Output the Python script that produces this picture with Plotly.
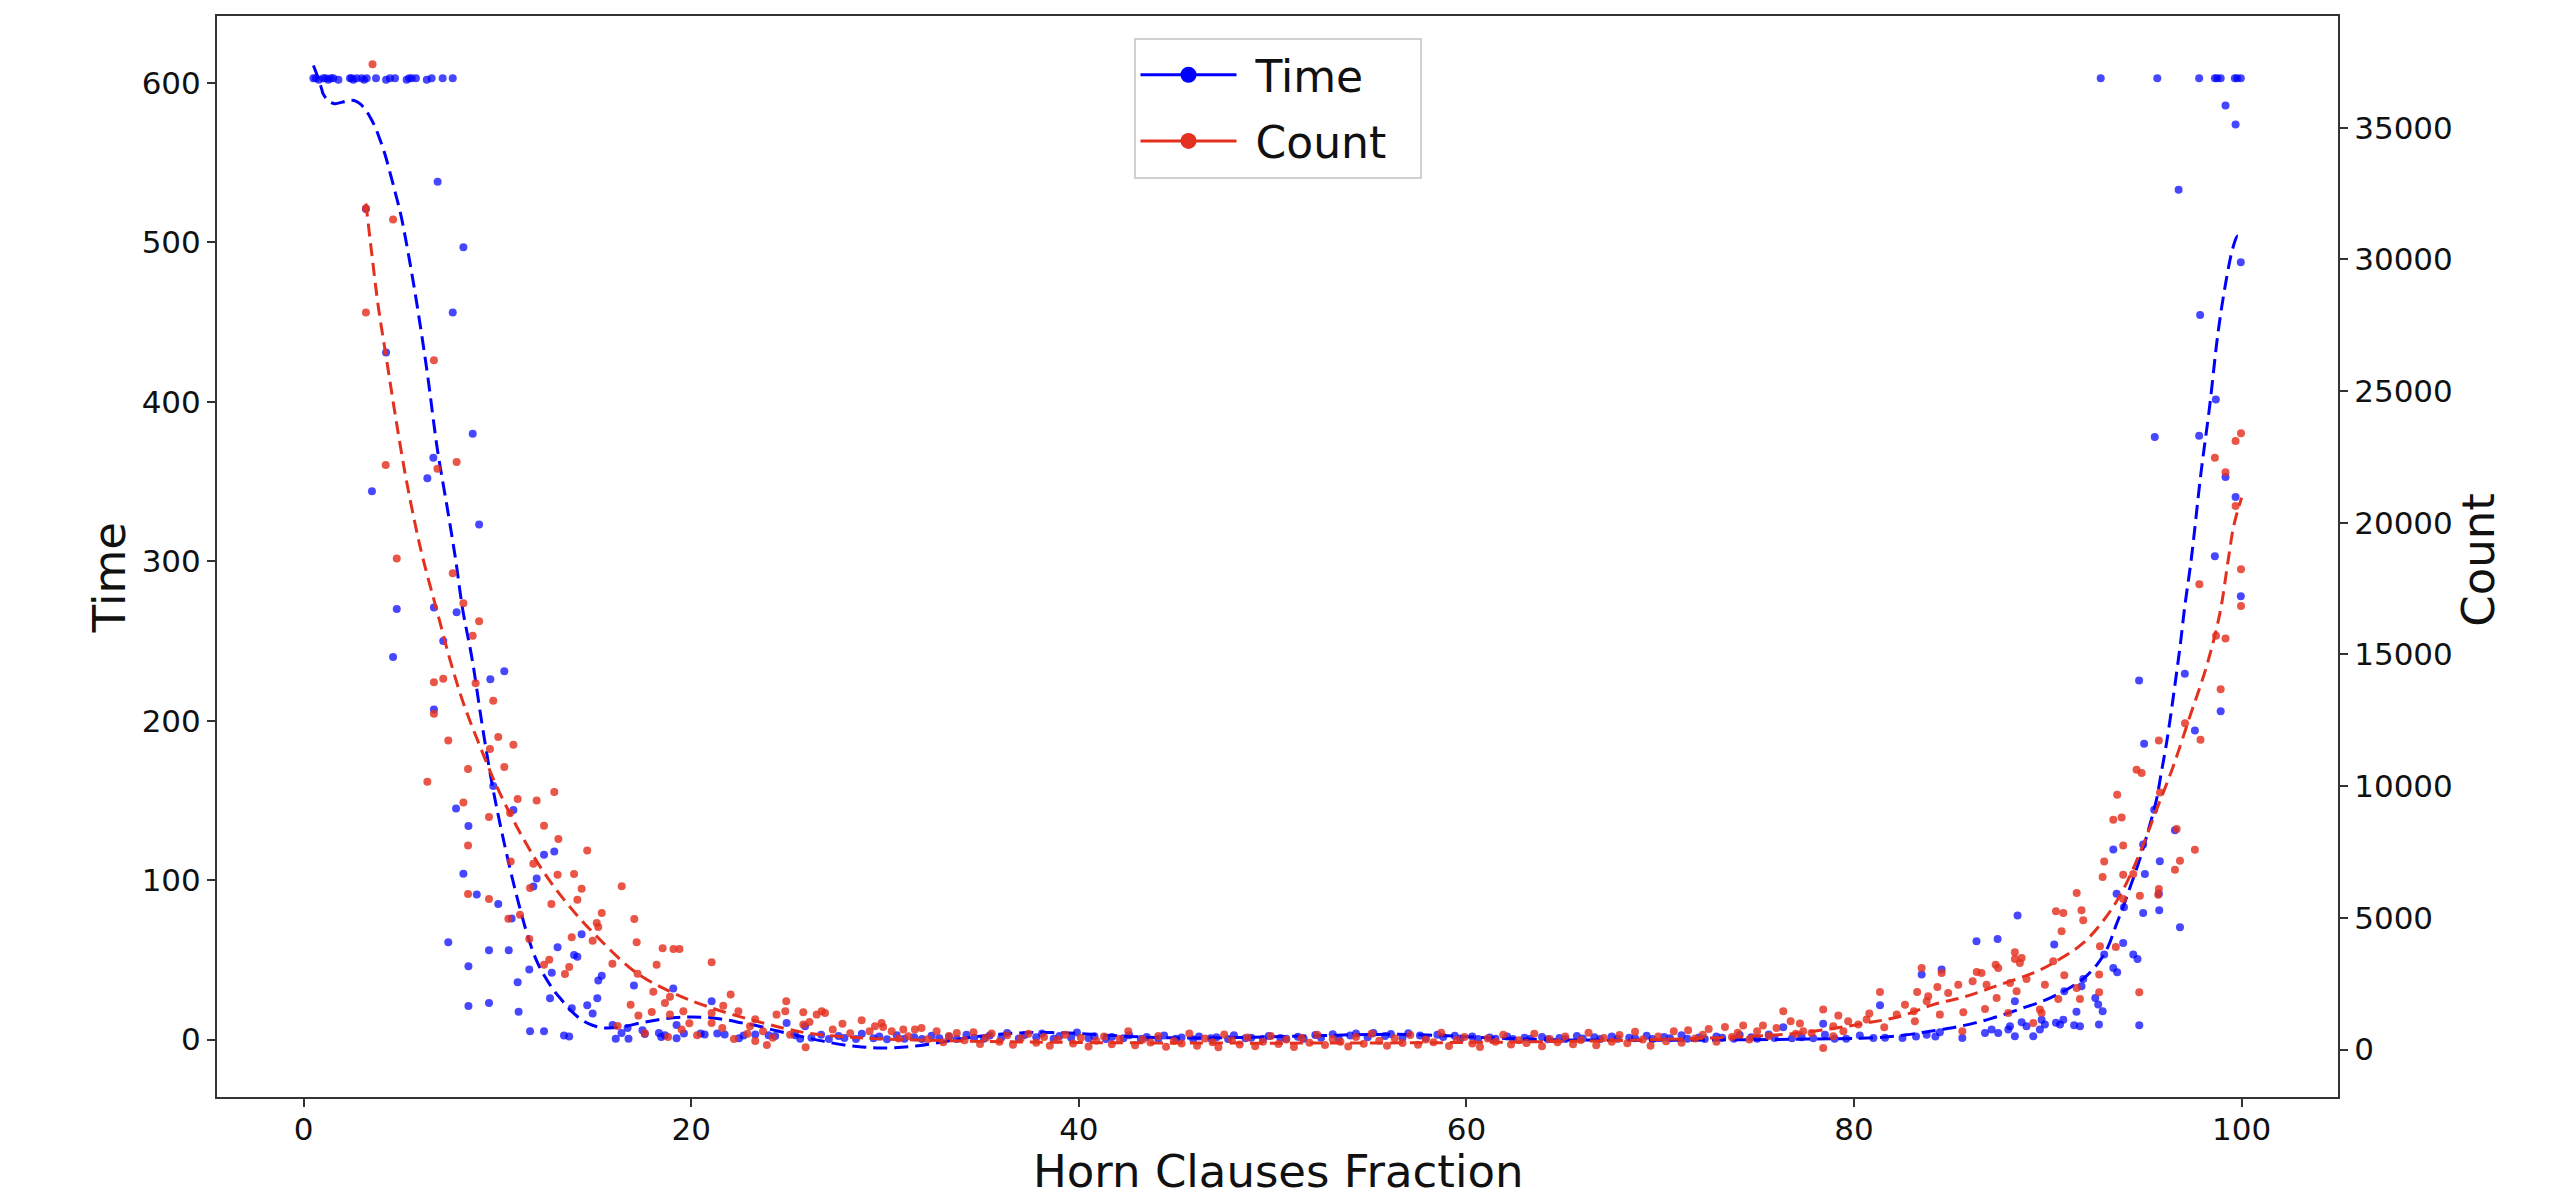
import plotly.graph_objects as go

# ---------------- data ----------------
# Time scatter (left axis), split by region; pairs of (horn fraction, time)
time_cap_left = [(0.50, 603), (0.62, 603), (0.78, 602), (1.01, 603), (1.14, 603), (1.27, 602),
                 (1.40, 603), (1.53, 603), (1.79, 602), (2.39, 603), (2.47, 603), (2.56, 602),
                 (2.73, 603), (2.99, 603), (3.12, 602), (3.25, 603), (3.73, 603), (4.25, 602),
                 (4.45, 603), (4.71, 603), (5.31, 602), (5.44, 603), (5.57, 603), (5.79, 603),
                 (6.35, 602), (6.60, 603), (7.17, 603), (7.69, 603)]
time_cap_right = [(92.73, 603), (95.65, 603), (97.81, 603), (98.62, 603), (98.74, 603),
                  (98.92, 603), (99.65, 603), (99.77, 603), (99.96, 603)]
time_left = [(3.21, 521), (6.91, 538), (8.24, 497), (7.69, 456), (4.25, 431), (8.72, 380),
             (6.69, 365), (6.38, 352), (3.52, 344), (9.05, 323), (4.80, 270), (6.72, 271),
             (7.89, 268), (4.61, 240), (7.20, 250), (10.35, 231), (9.63, 226), (6.72, 207),
             (9.78, 159), (7.86, 145), (10.82, 144), (8.50, 134), (12.40, 116), (12.93, 118),
             (8.24, 104), (12.02, 101), (11.85, 96), (8.93, 91), (10.04, 85), (10.73, 76),
             (14.34, 66), (7.46, 61), (9.56, 56), (10.58, 56), (13.10, 58), (13.95, 53),
             (14.12, 52), (8.50, 46), (11.64, 44), (12.80, 42), (15.38, 40), (15.20, 37),
             (11.04, 36), (17.04, 34), (19.07, 32), (12.71, 26), (15.15, 26), (8.50, 21),
             (9.56, 23), (14.63, 21.5), (13.83, 19.6), (11.09, 17.4), (14.91, 16.3), (21.05, 24),
             (24.92, 10.4), (11.68, 5.2), (12.40, 5.2), (13.43, 2.5), (13.70, 1.9), (15.94, 9.2),
             (16.10, 0.5), (16.40, 4.2), (16.76, 0.6), (16.71, 7.3), (17.48, 5.9), (17.60, 3.5),
             (18.33, 4.2), (18.45, 1.7), (18.64, 2.8), (19.24, 0.8), (19.24, 9.2), (19.62, 3.8),
             (20.48, 3.8), (20.69, 3.2), (21.34, 3.8), (21.72, 3.2), (22.46, 0.8), (22.70, 2.5),
             (23.30, 3.2), (23.99, 2.8), (24.33, 2.2), (25.36, 2.8), (25.62, 0.5), (25.87, 8.4)]
time_mid = [(26.2, 1.2), (26.7, 3.1), (27.1, 0.4), (27.6, 2.2), (27.9, 1.0), (28.5, 0.3),
            (28.8, 3.6), (29.4, 0.8), (29.7, 1.9), (30.1, 0.2), (30.6, 2.7), (31.0, 0.6),
            (31.5, 1.4), (31.9, 0.3), (32.4, 2.4), (32.8, 0.9), (33.3, 1.8), (33.7, 0.4),
            (34.2, 3.0), (34.6, 1.1), (35.1, 0.5), (35.4, 2.6), (36.0, 1.3), (36.3, 4.1),
            (36.9, 0.7), (37.2, 2.9), (37.8, 1.5), (38.1, 3.8), (38.7, 0.6), (39.0, 2.3),
            (39.6, 1.2), (39.9, 4.4), (40.5, 0.8), (40.8, 2.1), (41.4, 0.4), (41.7, 1.7),
            (42.3, 0.9), (42.6, 2.8), (43.2, 0.3), (43.5, 1.6), (44.1, 0.7), (44.4, 2.5),
            (45.0, 0.5), (45.3, 1.3), (45.9, 0.2), (46.2, 2.0), (46.8, 0.9), (47.1, 1.5),
            (47.7, 0.4), (48.0, 2.7), (48.6, 0.8), (48.9, 1.2), (49.5, 0.3), (49.8, 2.2),
            (50.4, 1.0), (50.7, 0.5), (51.3, 1.8), (51.6, 0.6), (52.2, 2.9), (52.5, 1.1),
            (53.1, 3.4), (53.4, 0.9), (54.0, 2.6), (54.3, 3.9), (54.9, 1.4), (55.2, 4.2),
            (55.8, 2.3), (56.1, 3.5), (56.7, 1.2), (57.0, 4.0), (57.6, 2.5), (57.9, 0.9),
            (58.5, 3.1), (58.8, 1.6), (59.4, 2.4), (59.7, 0.7), (60.3, 1.9), (60.6, 0.4),
            (61.2, 1.3), (61.5, 0.5), (62.1, 2.0), (62.4, 0.3), (63.0, 1.1), (63.3, 0.6),
            (63.9, 1.7), (64.2, 0.2), (64.8, 1.0), (65.1, 0.4), (65.7, 2.2), (66.0, 0.7),
            (66.6, 1.4), (66.9, 0.3), (67.5, 1.9), (67.8, 0.5), (68.4, 1.2), (68.7, 0.8),
            (69.3, 2.4), (69.6, 0.4), (70.2, 1.6), (70.5, 0.9), (71.1, 2.7), (71.4, 0.6),
            (72.0, 1.3), (72.3, 0.3), (72.9, 2.0), (73.2, 1.1), (73.8, 0.5), (74.1, 2.9),
            (74.7, 1.4), (75.0, 0.6), (75.6, 3.2), (75.9, 1.0), (76.35, 7.7), (76.8, 0.8)]
time_right = [(77.3, 1.5), (77.9, 0.8), (78.41, 10.0), (78.5, 3.1), (79.0, 0.5), (79.6, 0.6),
              (80.3, 2.5), (81.0, 1.0), (81.34, 21.5), (81.6, 1.2), (82.5, 1.0), (83.2, 2.0),
              (83.49, 40.8), (83.75, 3.1), (84.2, 2.0), (84.52, 43.9), (84.43, 4.6), (85.59, 1.0),
              (86.32, 61.7), (86.76, 4.2), (87.1, 6.3), (87.41, 63.1), (87.44, 4.2), (87.96, 6.3),
              (88.05, 8.4), (88.3, 24.0), (88.44, 77.8), (88.3, 2.1), (88.65, 10.9), (88.9, 8.4),
              (89.25, 2.1), (89.68, 12.5), (89.85, 9.4), (89.59, 6.3), (90.33, 59.6), (90.42, 10.5),
              (90.85, 30.3), (90.63, 9.4), (90.8, 12.5), (91.36, 9.0), (91.48, 17.4), (91.66, 8.4),
              (91.83, 38.0), (91.74, 33.4), (92.45, 26.1), (92.6, 22.0), (92.64, 9.4), (92.83, 17.8),
              (92.91, 53.3), (93.38, 119.2), (93.55, 91.4), (93.38, 44.9), (93.58, 42.2),
              (93.89, 60.6), (93.93, 83.0), (94.41, 53.3), (94.63, 50.6), (94.71, 225.3),
              (94.72, 9.0), (94.92, 122.3), (94.92, 79.4), (94.97, 185.6), (95.01, 103.9),
              (95.49, 144.2), (95.73, 91.4), (95.75, 81.1), (95.78, 111.8), (96.56, 131.3),
              (96.82, 70.5), (97.07, 229.5), (97.59, 193.8), (98.92, 205.9), (99.96, 278.0),
              (99.17, 585.8), (99.69, 573.9), (96.75, 533.1), (99.96, 487.5), (97.86, 454.5),
              (98.67, 401.4), (95.52, 378.0), (97.81, 378.8), (99.17, 352.9), (99.69, 340.3),
              (98.62, 303.1)]

# Count scatter (right axis): pairs of (horn fraction, count)
count_left = [(3.55, 37410), (3.21, 31935), (4.61, 31516), (3.21, 27988), (6.72, 26166),
              (4.23, 22195), (7.89, 22309), (6.90, 22055), (4.80, 18641), (7.69, 18086),
              (8.24, 16947), (9.05, 16264), (8.72, 15707), (6.72, 13950), (7.20, 14075),
              (8.87, 13912), (6.72, 12748), (9.78, 13241), (7.46, 11735), (10.04, 11863),
              (10.82, 11572), (9.61, 11408), (8.48, 10650), (10.35, 10726), (6.38, 10168),
              (8.24, 9383), (11.04, 9511), (12.02, 9460), (12.93, 9777), (9.56, 8828),
              (10.65, 8980), (12.40, 8499), (8.48, 7751), (13.14, 7994), (14.63, 7562),
              (10.68, 7145), (11.85, 7057), (13.10, 6640), (13.95, 6665), (11.68, 6134),
              (14.34, 6108), (16.41, 6197), (8.48, 5906), (9.56, 5716), (12.78, 5526),
              (14.12, 5691), (15.38, 5185), (17.06, 4957), (15.12, 4805), (15.20, 4653),
              (10.56, 4970), (11.16, 5122), (13.83, 4262), (11.64, 4198), (14.91, 4136),
              (17.18, 4073), (18.52, 3844), (19.08, 3820), (19.39, 3820), (21.05, 3312),
              (12.67, 3415), (12.40, 3225), (15.93, 3263), (18.21, 3225), (13.70, 3136),
              (13.48, 2871), (17.23, 2883), (18.04, 2200), (22.03, 2087), (18.64, 1771),
              (18.90, 2010), (16.87, 1707), (17.27, 1290), (17.96, 1429), (18.90, 1328),
              (19.59, 1454), (19.90, 1000), (21.05, 1391), (21.05, 1011), (21.65, 1669),
              (22.43, 1454), (23.03, 885), (23.30, 1150), (23.30, 329), (23.90, 177),
              (24.40, 1328), (24.90, 1833), (24.85, 1454), (25.78, 1416), (25.78, 948),
              (25.90, 88), (16.2, 900), (17.6, 620), (18.8, 480), (19.5, 760), (20.3, 540),
              (21.6, 820), (22.2, 400), (22.9, 600), (23.7, 700), (24.2, 450), (25.1, 560)]
count_mid = [(26.1, 1050), (26.47, 1328), (26.73, 1454), (26.9, 1391), (27.3, 760), (27.8, 980),
             (28.2, 620), (28.79, 1113), (29.2, 700), (29.48, 885), (29.82, 1011), (29.9, 860),
             (30.34, 695), (30.7, 420), (30.94, 758), (31.2, 510), (31.54, 758), (31.88, 822),
             (32.2, 390), (32.66, 695), (33.0, 280), (33.3, 520), (33.7, 632), (34.1, 350),
             (34.56, 660), (34.9, 210), (35.2, 450), (35.5, 610), (35.9, 300), (36.3, 540),
             (36.6, 180), (37.0, 420), (37.4, 600), (37.8, 260), (38.2, 480), (38.5, 150),
             (38.9, 380), (39.3, 560), (39.7, 230), (40.1, 450), (40.5, 120), (40.9, 340),
             (41.3, 500), (41.7, 200), (42.1, 410), (42.55, 695), (42.9, 160), (43.3, 380),
             (43.7, 270), (44.1, 520), (44.5, 110), (44.9, 330), (45.3, 230), (45.7, 610),
             (46.1, 150), (46.5, 420), (46.9, 280), (47.2, 90), (47.5, 570), (47.9, 350),
             (48.3, 190), (48.7, 460), (49.1, 130), (49.5, 300), (49.9, 520), (50.3, 210),
             (50.7, 380), (51.1, 100), (51.5, 440), (51.9, 260), (52.3, 560), (52.7, 170),
             (53.1, 400), (53.5, 300), (53.9, 120), (54.3, 480), (54.7, 220), (55.1, 600),
             (55.5, 340), (55.9, 150), (56.3, 430), (56.7, 250), (57.1, 550), (57.5, 180),
             (57.9, 380), (58.3, 280), (58.7, 640), (59.1, 140), (59.5, 360), (59.9, 480),
             (60.3, 230), (60.7, 100), (61.1, 420), (61.5, 300), (61.9, 560), (62.3, 190),
             (62.7, 350), (63.1, 250), (63.5, 600), (63.9, 130), (64.3, 400), (64.7, 280),
             (65.1, 500), (65.5, 200), (65.9, 360), (66.3, 640), (66.7, 160), (67.1, 440),
             (67.5, 300), (67.9, 550), (68.3, 240), (68.7, 680), (69.1, 380), (69.5, 150),
             (69.9, 500), (70.3, 320), (70.7, 695), (71.1, 260), (71.44, 733), (71.8, 420),
             (72.2, 560), (72.5, 780), (72.9, 300), (73.34, 860), (73.7, 480), (74.0, 640),
             (74.28, 910), (74.6, 380), (75.0, 700), (75.3, 910), (75.6, 520), (76.0, 820),
             (76.35, 1454), (76.73, 1075), (77.0, 600)]
count_right = [(99.97, 23397), (99.69, 23106), (98.62, 22473), (99.17, 21918), (99.69, 20639),
               (99.97, 18237), (97.82, 17668), (99.97, 16845), (98.68, 15707), (99.17, 15606),
               (98.92, 13684), (97.08, 12394), (97.88, 11761), (95.73, 11736), (94.58, 10623),
               (94.84, 10497), (93.58, 9675), (95.79, 9763), (93.38, 8726), (93.81, 8814),
               (96.65, 8372), (93.89, 7752), (97.59, 7588), (92.91, 7145), (96.82, 7171),
               (96.56, 6829), (92.83, 6551), (93.89, 6640), (94.41, 6665), (94.75, 5843),
               (95.70, 5881), (95.73, 6096), (93.89, 5716), (91.49, 5944), (90.42, 5248),
               (90.80, 5185), (91.74, 5286), (91.83, 4906), (90.71, 4489), (92.69, 3920),
               (93.51, 3895), (88.30, 3693), (88.65, 3478), (88.30, 3440), (88.56, 3288),
               (87.31, 3225), (87.44, 3098), (86.33, 2946), (86.58, 2908), (90.28, 3351),
               (90.85, 2820), (92.65, 2846), (83.49, 3098), (84.52, 2908), (86.12, 2593),
               (85.38, 2466), (84.86, 2150), (84.30, 2378), (83.83, 2023), (86.84, 2466),
               (87.36, 1960), (88.05, 2529), (88.39, 2213), (88.90, 2681), (89.85, 2466),
               (89.59, 1518), (90.54, 1922), (91.49, 2339), (91.66, 1922), (92.65, 2175),
               (94.72, 2175), (81.34, 2188), (83.26, 2188), (83.75, 1834), (82.63, 1707),
               (83.09, 1454), (83.14, 1075), (80.79, 1366), (82.20, 1328), (81.56, 847),
               (80.65, 1138), (78.41, 1518), (79.19, 1290), (79.70, 1075), (80.22, 948),
               (78.93, 885), (79.45, 696), (77.21, 986), (77.38, 696), (77.81, 632),
               (78.41, 63), (78.93, 506), (84.43, 1328), (85.64, 1416), (86.76, 1543),
               (87.96, 1391), (89.25, 1011), (89.68, 1391), (85.59, 696)]

# Smoothed trend curves (dashed)
time_fit_x = [0.5, 0.75, 0.93, 1.01, 1.3, 1.6, 2.0, 2.3, 2.6, 2.9, 3.2, 3.45, 3.7, 3.95, 4.2,
              4.47, 4.75, 5.0, 5.5, 6.0, 6.4, 6.9, 7.4, 7.84, 8.2, 8.7, 9.2, 9.74, 10.35, 10.95,
              11.56, 12.0, 12.42, 12.9, 13.3, 13.8, 14.33, 14.9, 15.5, 16.0, 16.6, 17.4, 18.3,
              19.2, 20.0, 20.9, 21.76, 22.6, 23.5, 24.4, 25.3, 26.1, 27.0, 27.9, 28.8, 29.6,
              30.5, 31.4, 32.3, 33.2, 34.1, 35.0, 35.9, 36.8, 37.7, 38.6, 39.5, 40.4, 41.3,
              42.2, 43.1, 44.0, 45.0, 46.0, 47.0, 48.0, 49.0, 50.0, 51.0, 52.0, 53.0, 54.0,
              55.0, 56.0, 57.0, 58.0, 59.0, 60.0, 61.0, 62.0, 63.0, 64.0, 66.0, 68.0, 70.0,
              72.0, 74.0, 76.0, 77.6, 79.0, 80.3, 81.5, 82.7, 83.6, 84.5, 85.4, 86.25, 87.1,
              87.97, 88.8, 89.7, 90.6, 91.4, 92.0, 92.6, 93.1, 93.5, 93.85, 94.2, 94.55, 94.9,
              95.25, 95.6, 95.85, 96.1, 96.35, 96.6, 96.85, 97.05, 97.4, 97.9, 98.35, 98.78,
              99.2, 99.56, 99.8, 100.0]
time_fit_y = [611, 603, 596, 593, 588.5, 587, 588, 589, 589, 587, 583, 578, 572, 564, 555,
              543, 530, 518, 486, 449, 416, 370, 334, 301, 270, 238, 198, 159, 123, 92,
              65, 50, 40, 31, 25, 18, 12.5, 9, 7.3, 7.5, 8.4, 10.5, 12.5,
              13.8, 14.2, 13.8, 12.5, 10.5, 8.4, 5.5, 3.0, 0.8, -1.5, -3.4, -4.6, -5.2,
              -5.1, -4.3, -2.8, -1.0, 0.8, 2.3, 3.4, 4.1, 4.4, 4.4, 4.1, 3.5, 2.8,
              2.2, 1.7, 1.3, 1.1, 1.0, 1.1, 1.3, 1.5, 1.8, 2.1, 2.4, 2.7, 3.0,
              3.2, 3.3, 3.2, 2.9, 2.4, 1.8, 1.2, 0.7, 0.3, 0.0, -0.3, -0.4, -0.4,
              -0.3, -0.1, 0.1, 0.3, 0.5, 0.8, 1.5, 3.0, 4.6, 6.3, 8.2, 10.5, 13.3,
              16.7, 20.2, 24.0, 29.0, 34.5, 40.0, 48.0, 58.0, 71.0, 82.0, 94.0, 106.0, 119.0,
              134.0, 150.0, 167.0, 184.0, 204.0, 226.0, 249.0, 270.0, 301.0, 355.0, 397.0, 443.0,
              476.0, 497.0, 504.0, 501.0]
count_fit_x = [3.21, 3.51, 3.85, 4.28, 4.71, 5.23, 5.74, 6.17, 6.86, 7.55, 8.24, 9.1, 9.96,
               10.99, 12.19, 13.57, 15.12, 17.18, 19.07, 20.8, 23.37, 25.95, 28.0, 30.0, 33.0,
               36.0, 40.0, 45.0, 50.0, 55.0, 60.0, 65.0, 70.0, 74.0, 77.2, 80.65, 82.4, 84.09,
               85.8, 87.53, 89.25, 90.28, 91.83, 93.03, 93.89, 94.75, 95.61, 96.47, 97.33,
               98.19, 98.88, 99.31, 99.6, 100.0]
count_fit_y = [32123, 30226, 28201, 26179, 24156, 21880, 19983, 18591, 16694, 14797, 13153,
               11508, 9990, 8472, 6954, 5564, 4299, 2909, 2150, 1644, 1075, 632, 480, 400, 340,
               300, 270, 250, 245, 250, 270, 310, 380, 480, 632, 1011, 1265, 1707, 2023, 2466,
               2909, 3289, 4048, 5058, 6070, 7462, 9106, 10749, 12646, 14543, 16568, 18591,
               19900, 20950]

x_ticks = [0, 20, 40, 60, 80, 100]
time_ticks = [0, 100, 200, 300, 400, 500, 600]
count_ticks = [0, 5000, 10000, 15000, 20000, 25000, 30000, 35000]
legend_names = ["\u00a0Time", "\u00a0Count\u00a0\u00a0"]

# ---------------- styling ----------------
BLUE = "#0000ff"
RED = "#e4311f"
FONT = "DejaVu Sans"

time_pts = time_cap_left + time_left + time_mid + time_right + time_cap_right
count_pts = count_left + count_mid + count_right

fig = go.Figure()

# legend proxies
fig.add_trace(go.Scatter(x=[None], y=[None], mode="lines+markers", name=legend_names[0],
                         legendgroup="t", line=dict(color=BLUE, width=3),
                         marker=dict(color=BLUE, size=16)))
fig.add_trace(go.Scatter(x=[None], y=[None], mode="lines+markers", name=legend_names[1],
                         legendgroup="c", yaxis="y2", line=dict(color=RED, width=3),
                         marker=dict(color=RED, size=16)))

fig.add_trace(go.Scatter(x=[p[0] for p in time_pts], y=[p[1] for p in time_pts], mode="markers",
                         marker=dict(color=BLUE, size=8, opacity=0.72), showlegend=False))
fig.add_trace(go.Scatter(x=time_fit_x, y=time_fit_y, mode="lines",
                         line=dict(color=BLUE, width=3, dash="14px,7px", shape="spline"),
                         showlegend=False))
fig.add_trace(go.Scatter(x=[p[0] for p in count_pts], y=[p[1] for p in count_pts], mode="markers",
                         yaxis="y2", marker=dict(color=RED, size=8, opacity=0.82), showlegend=False))
fig.add_trace(go.Scatter(x=count_fit_x, y=count_fit_y, mode="lines", yaxis="y2",
                         line=dict(color=RED, width=3, dash="13px,7px", shape="spline"),
                         showlegend=False))

axis_common = dict(showgrid=False, zeroline=False, showline=True, linecolor="#333333",
                   linewidth=2, ticks="outside", ticklen=8, tickwidth=1.5, tickcolor="#333333",
                   tickfont=dict(family=FONT, size=31, color="#111111"))

title_font = dict(family=FONT, size=45, color="#111111")

fig.update_layout(
    width=2560, height=1199,
    margin=dict(l=217, r=222, t=16, b=102),
    paper_bgcolor="white", plot_bgcolor="white",
    font=dict(family=FONT, color="#111111"),
    xaxis=dict(range=[-4.475, 104.975], tickvals=x_ticks, mirror=True, **axis_common),
    yaxis=dict(range=[-36, 642], tickvals=time_ticks, **axis_common),
    yaxis2=dict(range=[-1800, 39240], tickvals=count_ticks, tickformat="d", overlaying="y",
                side="right", **axis_common),
    legend=dict(x=0.5, y=0.98, xanchor="center", yanchor="top",
                font=dict(family=FONT, size=44, color="#111111"), tracegroupgap=6,
                bgcolor="white", bordercolor="#d0d0d0", borderwidth=2, itemwidth=96),
    annotations=[
        dict(text="Horn Clauses Fraction", xref="paper", yref="paper", x=0.5, y=-0.0685,
             xanchor="center", yanchor="middle", showarrow=False, font=title_font),
        dict(text="Time", xref="paper", yref="paper", x=-0.0509, y=0.48, textangle=-90,
             xanchor="center", yanchor="middle", showarrow=False, font=title_font),
        dict(text="Count", xref="paper", yref="paper", x=1.0665, y=0.497, textangle=-90,
             xanchor="center", yanchor="middle", showarrow=False, font=title_font),
    ],
)

try:
    fig.update_xaxes(ticklabelstandoff=-4)
except (ValueError, TypeError):
    pass

fig.write_html("out.html", config={"displayModeBar": False},
               post_script="document.body.style.margin='0px';")
